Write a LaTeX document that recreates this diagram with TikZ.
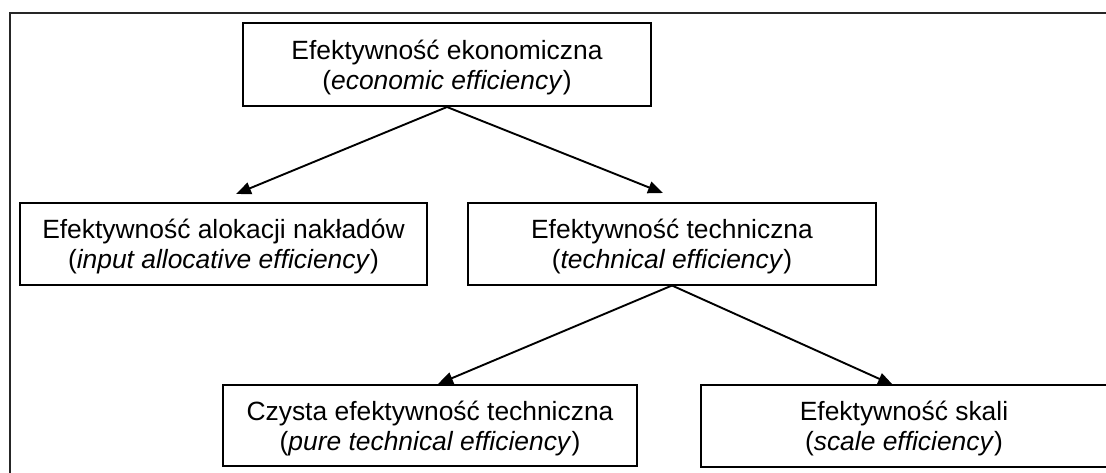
\documentclass[tikz,border=0pt]{standalone}
\usepackage{fontspec}
\setmainfont{Liberation Sans}
\usetikzlibrary{arrows.meta}
\begin{document}
\begin{tikzpicture}[x=1pt,y=-1pt,
  box/.style={draw, line width=2pt, inner sep=0pt, align=center,
    font=\fontsize{26.4}{30}\selectfont, text height=56pt, text depth=7pt},
  link/.style={line width=1.9pt, -{Triangle[length=15pt,width=12pt]}}]
\useasboundingbox (0,0) rectangle (1106,472);
\clip (0,0) rectangle (1106,472);
% outer frame (runs past the right and lower edges)
\draw[line width=2pt, black!85] (9.5,12.5) rectangle (1140,500);

% efficiency boxes
\node[box, minimum width=408pt, minimum height=83pt] (econ) at (447,64.5)
  {Efektywność ekonomiczna\\(\textit{economic efficiency})};
\node[box, minimum width=407pt, minimum height=82pt] (alloc) at (223.5,243.5)
  {Efektywność alokacji nakładów\\(\textit{input allocative efficiency})};
\node[box, minimum width=408pt, minimum height=82pt] (tech) at (672,243.5)
  {Efektywność techniczna\\(\textit{technical efficiency})};
\node[box, minimum width=414pt, minimum height=81pt] (pure) at (430,425.5)
  {Czysta efektywność techniczna\\(\textit{pure technical efficiency})};
\node[box, minimum width=406pt, minimum height=82pt] (scale) at (904,426)
  {Efektywność skali\\(\textit{scale efficiency})};

% arrow end points
\coordinate (allocTip) at (236,194);
\coordinate (techTip) at (663,193);
\coordinate (pureTip) at (438,384);
\coordinate (scaleTip) at (893,385);

\draw[link] (econ.south) -- (allocTip);
\draw[link] (econ.south) -- (techTip);
\draw[link] (tech.south) -- (pureTip);
\draw[link] (tech.south) -- (scaleTip);
\end{tikzpicture}
\end{document}
